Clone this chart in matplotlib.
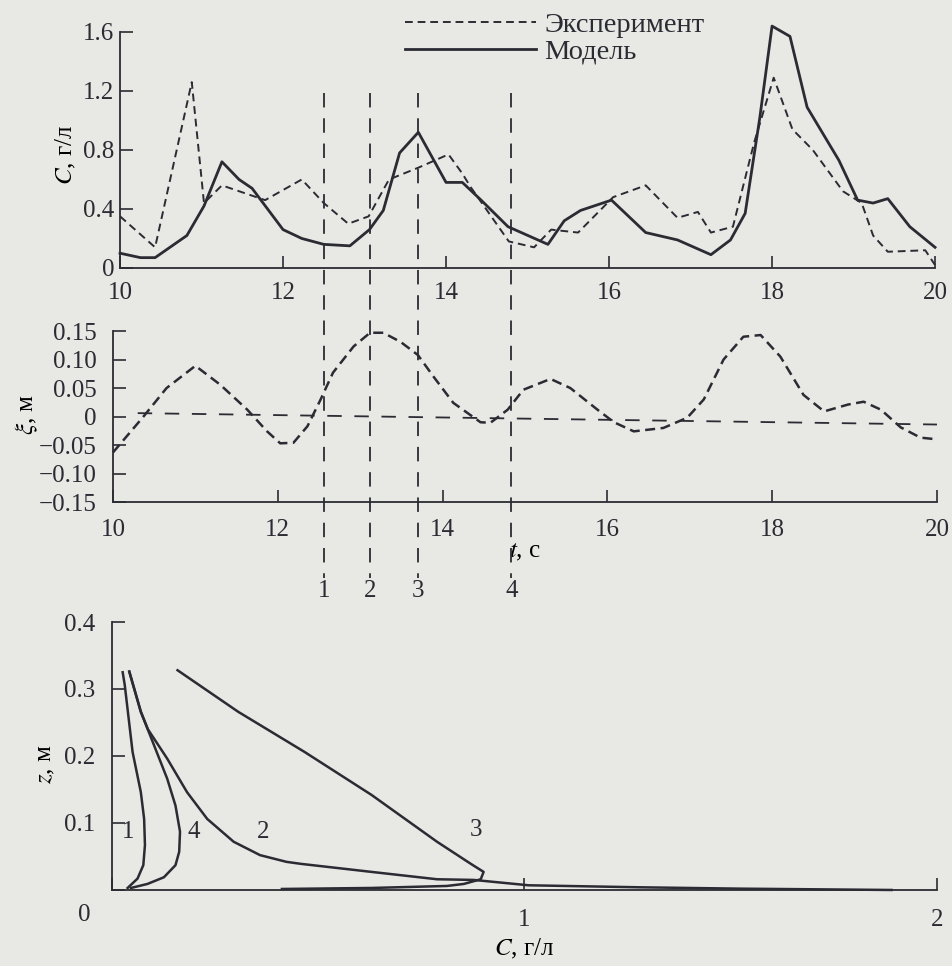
import numpy as np
import matplotlib
matplotlib.use('Agg')
import matplotlib.pyplot as plt
from matplotlib import transforms
from matplotlib.lines import Line2D

# --- top panel: concentration C(t), experiment vs model
t_exp = [10.0, 10.43, 10.88, 11.03, 11.25, 11.78, 12.23, 12.5, 12.8, 13.05, 13.3, 13.66,
         14.03, 14.2, 14.3, 14.77, 15.08, 15.29, 15.62, 16.05, 16.45, 16.84, 17.09, 17.25,
         17.52, 17.78, 18.02, 18.25, 18.5, 18.87, 19.1, 19.24, 19.42, 19.88, 20.0]
c_exp = [0.35, 0.14, 1.26, 0.44, 0.56, 0.46, 0.60, 0.44, 0.30, 0.35, 0.60, 0.68,
         0.77, 0.64, 0.55, 0.18, 0.14, 0.26, 0.24, 0.48, 0.56, 0.34, 0.38, 0.24,
         0.28, 0.85, 1.29, 0.94, 0.80, 0.52, 0.44, 0.22, 0.11, 0.12, 0.02]

t_mod = [10.0, 10.25, 10.43, 10.82, 11.03, 11.25, 11.46, 11.62, 12.0, 12.23, 12.5, 12.82,
         13.06, 13.23, 13.43, 13.66, 14.0, 14.2, 14.43, 14.76, 15.25, 15.45, 15.65, 16.03,
         16.45, 16.84, 17.25, 17.49, 17.67, 17.85, 18.0, 18.22, 18.43, 18.82, 19.05, 19.24,
         19.42, 19.69, 20.0]
c_mod = [0.10, 0.07, 0.07, 0.22, 0.42, 0.72, 0.60, 0.54, 0.26, 0.20, 0.16, 0.15,
         0.26, 0.39, 0.78, 0.92, 0.58, 0.58, 0.46, 0.28, 0.16, 0.32, 0.39, 0.46,
         0.24, 0.19, 0.09, 0.19, 0.37, 1.02, 1.64, 1.57, 1.09, 0.73, 0.46, 0.44,
         0.47, 0.28, 0.14]

# --- middle panel: free surface elevation xi(t)
t_xi = [10.0, 10.37, 10.65, 11.0, 11.3, 11.63, 11.87, 12.03, 12.19, 12.36, 12.52, 12.67,
        12.92, 13.12, 13.28, 13.49, 13.7, 13.89, 14.13, 14.46, 14.58, 14.79, 14.98, 15.31,
        15.55, 15.88, 16.08, 16.32, 16.68, 16.97, 17.17, 17.41, 17.65, 17.86, 18.1, 18.38,
        18.63, 18.92, 19.11, 19.32, 19.56, 19.8, 20.0]
xi = [-0.063, 0.0, 0.05, 0.089, 0.056, 0.012, -0.026, -0.047, -0.046, -0.017, 0.03, 0.077,
      0.123, 0.147, 0.147, 0.131, 0.108, 0.07, 0.024, -0.01, -0.011, 0.012, 0.047, 0.066,
      0.05, 0.012, -0.01, -0.026, -0.02, -0.002, 0.03, 0.1, 0.14, 0.143, 0.105, 0.038,
      0.009, 0.021, 0.026, 0.012, -0.019, -0.037, -0.04]
t_mean = [10.3, 20.0]
xi_mean = [0.006, -0.014]

# moments of the profiles
t_marks = [12.5, 13.07, 13.65, 14.8]
mark_names = ['1', '2', '3', '4']

# --- bottom panel: vertical profiles C(z)
c1 = [0.026, 0.031, 0.050, 0.070, 0.078, 0.080, 0.076, 0.062, 0.038]
z1 = [0.325, 0.306, 0.206, 0.146, 0.106, 0.067, 0.037, 0.017, 0.003]
c2 = [0.042, 0.070, 0.087, 0.134, 0.182, 0.231, 0.295, 0.359, 0.423, 0.458, 0.629, 0.788,
      0.877, 1.01, 1.28, 1.52, 1.89]
z2 = [0.326, 0.266, 0.240, 0.196, 0.146, 0.106, 0.072, 0.052, 0.042, 0.039, 0.027, 0.016,
      0.015, 0.007, 0.004, 0.002, 0.0]
c3 = [0.159, 0.306, 0.467, 0.629, 0.788, 0.870, 0.901, 0.894, 0.853, 0.812, 0.629, 0.412]
z3 = [0.328, 0.266, 0.206, 0.142, 0.072, 0.039, 0.027, 0.016, 0.009, 0.006, 0.003, 0.0015]
c4 = [0.042, 0.070, 0.102, 0.134, 0.154, 0.165, 0.163, 0.154, 0.126, 0.086, 0.046]
z4 = [0.326, 0.266, 0.216, 0.166, 0.126, 0.087, 0.057, 0.037, 0.019, 0.009, 0.003]
prof_label_c = [0.040, 0.367, 0.882, 0.198]
prof_label_z = [0.087, 0.087, 0.089, 0.087]

ink = '#2b2b33'
bg = '#e8e8e5'
plt.rcParams['font.family'] = ['Liberation Serif', 'DejaVu Serif']
plt.rcParams['mathtext.fontset'] = 'stix'
plt.rcParams['text.color'] = ink
plt.rcParams['axes.edgecolor'] = ink
plt.rcParams['xtick.color'] = ink
plt.rcParams['ytick.color'] = ink
fs = 18

fig = plt.figure(figsize=(9.52, 9.66), dpi=100, facecolor=bg)
ax1 = fig.add_axes([0.1261, 0.7226, 0.8561, 0.2443])
ax2 = fig.add_axes([0.1187, 0.4803, 0.8655, 0.1770])
ax3 = fig.add_axes([0.1176, 0.0787, 0.8666, 0.2774])

for ax in (ax1, ax2, ax3):
    ax.set_facecolor('none')
    ax.spines['top'].set_visible(False)
    ax.spines['right'].set_visible(False)
    for s in ('left', 'bottom'):
        ax.spines[s].set_linewidth(1.3)
    ax.tick_params(direction='in', length=9, width=1.2, labelsize=fs)

# top
ax1.plot(t_exp, c_exp, color=ink, lw=1.4, dashes=(4, 2.5), clip_on=False, label='Эксперимент')
ax1.plot(t_mod, c_mod, color=ink, lw=2.0, clip_on=False, label='Модель')
ax1.set_xlim(10, 20)
ax1.set_ylim(0, 1.6)
ax1.set_xticks([10, 12, 14, 16, 18, 20])
ax1.set_yticks([0, 0.4, 0.8, 1.2, 1.6])
ax1.set_yticklabels(['0', '0.4', '0.8', '1.2', '1.6'])
ax1.tick_params(axis='x', pad=10)
ax1.tick_params(axis='y', pad=4)
ax1.set_ylabel('$C$, г/л', fontsize=fs)
ax1.yaxis.set_label_coords(-0.052, 0.48)
fig.legend(loc='upper left', bbox_to_anchor=(0.4254, 0.9875), frameon=False, fontsize=20.5,
           handlelength=4.6, handletextpad=0.3, labelspacing=0.02, borderpad=0, borderaxespad=0)

# middle
ax2.plot(t_xi, xi, color=ink, lw=1.8, dashes=(4, 2.2), clip_on=False)
ax2.plot(t_mean, xi_mean, color=ink, lw=1.3, dashes=(8, 7))
ax2.set_xlim(10, 20)
ax2.set_ylim(-0.15, 0.15)
ax2.set_xticks([10, 12, 14, 16, 18, 20])
ax2.set_yticks([-0.15, -0.10, -0.05, 0, 0.05, 0.10, 0.15])
ax2.set_yticklabels(['−0.15', '−0.10', '−0.05', '0', '0.05', '0.10', '0.15'])
ax2.tick_params(axis='x', pad=12)
ax2.tick_params(axis='y', pad=12)
ax2.set_ylabel('$\\xi$, м', fontsize=fs)
ax2.yaxis.set_label_coords(-0.088, 0.51)
ax2.set_xlabel('$t$, с', fontsize=fs)
ax2.xaxis.set_label_coords(0.5, -0.228)

# vertical marks across both time panels
tr = transforms.blended_transform_factory(ax1.transData, fig.transFigure)
for tm, nm in zip(t_marks, mark_names):
    fig.add_artist(Line2D([tm, tm], [0.904, 0.402], transform=tr, color=ink, lw=1.3,
                          dashes=(8, 6)))
    fig.text(tm, 0.388, nm, transform=tr, ha='center', va='center', fontsize=fs)

# bottom
for cc, zz in ((c1, z1), (c2, z2), (c3, z3), (c4, z4)):
    ax3.plot(cc, zz, color=ink, lw=1.8, clip_on=False)
for nm, lc, lz in zip(mark_names, prof_label_c, prof_label_z):
    ax3.text(lc, lz, nm, ha='center', va='center', fontsize=fs)
ax3.set_xlim(0, 2)
ax3.set_ylim(0, 0.4)
ax3.set_xticks([0, 1, 2])
ax3.set_xticklabels(['', '1', '2'])
ax3.set_yticks([0, 0.1, 0.2, 0.3, 0.4])
ax3.set_yticklabels(['', '0.1', '0.2', '0.3', '0.4'])
ax3.tick_params(axis='x', pad=14)
ax3.tick_params(axis='y', pad=12)
ax3.annotate('0', xy=(0, 0), xycoords='data', xytext=(-20, -18), textcoords='offset points',
             ha='center', va='center', fontsize=fs)
ax3.set_ylabel('$z$, м', fontsize=fs)
ax3.yaxis.set_label_coords(-0.067, 0.47)
ax3.set_xlabel('$C$, г/л', fontsize=fs)
ax3.xaxis.set_label_coords(0.5, -0.175)

fig.savefig('out.png', dpi=100, facecolor=bg)
